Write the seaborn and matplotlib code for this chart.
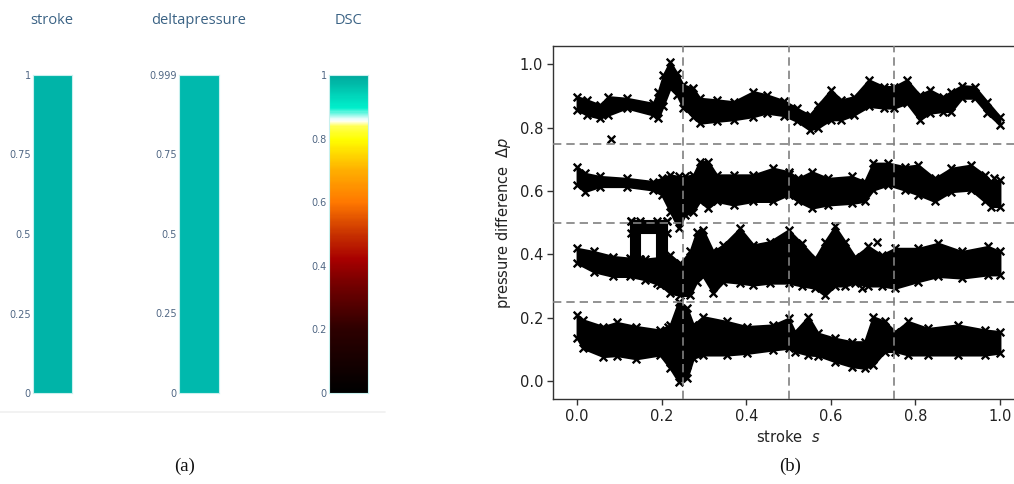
import numpy as np
import pandas as pd
import matplotlib
matplotlib.use("Agg")
import matplotlib.pyplot as plt
from matplotlib.colors import LinearSegmentedColormap
from matplotlib.lines import Line2D
import seaborn as sns

# ---------------- data : panel (a) ----------------
axis_names = ["stroke", "deltapressure", "DSC"]
axis_ranges = [(0, 1), (0, 0.999), (0, 1)]
axis_ticks = [[0, 0.25, 0.5, 0.75, 1],
              [0, 0.25, 0.5, 0.75, 0.999],
              [0, 0.2, 0.4, 0.6, 0.8, 1]]
axis_ticklabels = [["0", "0.25", "0.5", "0.75", "1"],
                   ["0", "0.25", "0.5", "0.75", "0.999"],
                   ["0", "0.2", "0.4", "0.6", "0.8", "1"]]
dsc_stops = [0.0, 0.2, 0.35, 0.42, 0.5, 0.6, 0.7, 0.8, 0.84, 0.86, 0.9, 1.0]
dsc_colors = ["#000000", "#2e0000", "#7a0000", "#a80000", "#c83200", "#ff7800",
              "#ffae00", "#ffff00", "#ffff50", "#ffffff", "#00f0cc", "#00aa9e"]

# ---------------- data : panel (b) ----------------
b1_s = [0.0, 0.023, 0.054, 0.074, 0.117, 0.18, 0.192, 0.204, 0.22, 0.236, 0.251, 0.275, 0.29,
        0.33, 0.37, 0.417, 0.448, 0.49, 0.52, 0.55, 0.57, 0.60, 0.625, 0.655, 0.69, 0.725,
        0.75, 0.78, 0.81, 0.835, 0.865, 0.885, 0.91, 0.94, 0.97, 1.0]
b1_hi = [0.898, 0.888, 0.872, 0.898, 0.893, 0.877, 0.914, 0.967, 1.009, 0.972, 0.935, 0.925,
         0.893, 0.888, 0.882, 0.914, 0.904, 0.885, 0.861, 0.84, 0.872, 0.919, 0.888, 0.898,
         0.951, 0.93, 0.93, 0.951, 0.904, 0.919, 0.898, 0.914, 0.933, 0.93, 0.882, 0.835]
b1_lo = [0.856, 0.84, 0.83, 0.84, 0.862, 0.84, 0.83, 0.87, 0.925, 0.904, 0.862, 0.835, 0.814,
         0.82, 0.825, 0.835, 0.846, 0.838, 0.82, 0.793, 0.80, 0.825, 0.825, 0.84, 0.867, 0.862,
         0.862, 0.877, 0.825, 0.846, 0.851, 0.851, 0.893, 0.893, 0.846, 0.809]

b2_s = [0.0, 0.018, 0.054, 0.117, 0.18, 0.2, 0.22, 0.24, 0.255, 0.275, 0.29, 0.31, 0.33, 0.37,
        0.417, 0.464, 0.5, 0.523, 0.555, 0.594, 0.65, 0.68, 0.70, 0.736, 0.775, 0.807, 0.846,
        0.885, 0.932, 0.964, 0.98, 1.0]
b2_hi = [0.677, 0.656, 0.646, 0.64, 0.63, 0.64, 0.651, 0.646, 0.646, 0.651, 0.693, 0.693, 0.651,
         0.651, 0.651, 0.672, 0.661, 0.64, 0.661, 0.64, 0.646, 0.63, 0.688, 0.688, 0.677, 0.682,
         0.64, 0.672, 0.682, 0.651, 0.63, 0.635]
b2_lo = [0.619, 0.598, 0.614, 0.614, 0.603, 0.588, 0.535, 0.482, 0.524, 0.535, 0.567, 0.546,
         0.567, 0.556, 0.567, 0.567, 0.588, 0.567, 0.546, 0.556, 0.561, 0.567, 0.603, 0.619,
         0.603, 0.588, 0.567, 0.598, 0.603, 0.567, 0.551, 0.551]

b3_s = [0.0, 0.039, 0.086, 0.125, 0.16, 0.196, 0.22, 0.244, 0.267, 0.283, 0.298, 0.322, 0.346,
        0.385, 0.417, 0.456, 0.5, 0.531, 0.563, 0.586, 0.61, 0.634, 0.657, 0.689, 0.72, 0.752,
        0.807, 0.854, 0.91, 0.972, 1.0]
b3_hi = [0.419, 0.409, 0.393, 0.388, 0.385, 0.39, 0.398, 0.372, 0.409, 0.472, 0.477, 0.409,
         0.43, 0.482, 0.43, 0.44, 0.477, 0.435, 0.388, 0.44, 0.488, 0.44, 0.393, 0.425, 0.398,
         0.419, 0.419, 0.435, 0.409, 0.425, 0.409]
b3_lo = [0.372, 0.345, 0.33, 0.33, 0.32, 0.303, 0.277, 0.27, 0.27, 0.314, 0.33, 0.277, 0.314,
         0.309, 0.303, 0.309, 0.309, 0.30, 0.293, 0.27, 0.30, 0.30, 0.309, 0.30, 0.30, 0.293,
         0.314, 0.33, 0.325, 0.335, 0.335]
# loop excursion of band 3 (pieces: s-start, s-end, low, high)
loop_s0 = [0.128, 0.128, 0.19]
loop_s1 = [0.212, 0.148, 0.212]
loop_lo = [0.468, 0.385, 0.31]
loop_hi = [0.505, 0.505, 0.505]

b4_s = [0.0, 0.014, 0.062, 0.094, 0.14, 0.196, 0.22, 0.24, 0.26, 0.275, 0.298, 0.354, 0.401,
        0.464, 0.5, 0.515, 0.547, 0.57, 0.61, 0.65, 0.68, 0.70, 0.728, 0.752, 0.783, 0.83, 0.9,
        0.965, 1.0]
b4_hi = [0.209, 0.193, 0.172, 0.185, 0.172, 0.161, 0.177, 0.25, 0.23, 0.177, 0.203, 0.188,
         0.172, 0.177, 0.198, 0.156, 0.203, 0.151, 0.135, 0.124, 0.124, 0.203, 0.188, 0.156,
         0.188, 0.166, 0.177, 0.161, 0.156]
b4_lo = [0.135, 0.103, 0.077, 0.08, 0.07, 0.082, 0.04, -0.002, 0.008, 0.072, 0.082, 0.082,
         0.087, 0.098, 0.103, 0.093, 0.082, 0.08, 0.061, 0.045, 0.04, 0.05, 0.093, 0.093, 0.082,
         0.082, 0.082, 0.082, 0.088]

out_s = [0.08, 0.5, 0.673, 0.985, 0.71, 0.26, 0.215, 0.26]
out_dp = [0.765, 0.655, 0.295, 0.64, 0.44, 0.05, 0.17, 0.56]

boundaries = [0.25, 0.5, 0.75]
xticks = [0.0, 0.2, 0.4, 0.6, 0.8, 1.0]
yticks = [0.0, 0.2, 0.4, 0.6, 0.8, 1.0]

# ---------------- figure ----------------
sns.set_theme(style="ticks")
plt.rcParams['font.family'] = ['DejaVu Sans']
plt.rcParams['mathtext.fontset'] = 'dejavusans'

W, H = 1014, 484
fig = plt.figure(figsize=(W / 100, H / 100), dpi=100)
fig.patch.set_facecolor("white")


def px_axes(x0, y0, x1, y1):
    return fig.add_axes([x0 / W, 1 - y1 / H, (x1 - x0) / W, (y1 - y0) / H])


# ---- panel (a) ----
dsc_cmap = LinearSegmentedColormap.from_list("dsc", list(zip(dsc_stops, dsc_colors)))
bar_px = [(33, 72), (179, 219), (329, 368)]
title_x = [52, 199, 348]
bar_fill = ["#00b4a8", "#00b9ad", None]
for i, name in enumerate(axis_names):
    x0, x1 = bar_px[i]
    ax = px_axes(x0, 75, x1, 393)
    lo, hi = axis_ranges[i]
    if bar_fill[i] is None:
        grad = np.linspace(lo, hi, 300).reshape(-1, 1)
        ax.imshow(grad, cmap=dsc_cmap, aspect="auto", origin="lower",
                  extent=[0, 1, lo, hi], vmin=lo, vmax=hi)
    else:
        ax.fill_between([0, 1], [lo, lo], [hi, hi], color=bar_fill[i], lw=0)
    ax.set_xlim(0, 1)
    ax.set_ylim(lo, hi)
    ax.set_xticks([])
    ax.set_yticks(axis_ticks[i], axis_ticklabels[i])
    ax.tick_params(axis="y", length=0, pad=1.5, labelsize=7, labelcolor="#506784")
    for sp in ax.spines.values():
        sp.set_color("#c8f0ee")
        sp.set_linewidth(0.8)
    fig.text(title_x[i] / W, 1 - 20 / H, name, ha="center", va="center",
             fontsize=10.5, color="#3a6284", family=["Open Sans", "DejaVu Sans"])

fig.add_artist(Line2D([0, 385 / W], [1 - 412 / H, 1 - 412 / H], color="#f0f0f0", lw=1.2))

# ---- panel (b) ----
ax = px_axes(553, 46, 1024, 399)
ax.set_facecolor("white")
bands = [(b1_s, b1_lo, b1_hi), (b2_s, b2_lo, b2_hi), (b3_s, b3_lo, b3_hi), (b4_s, b4_lo, b4_hi)]
frames = []
for s, lo, hi in bands:
    ax.fill_between(s, lo, hi, color="black", lw=1.5, edgecolor="black", zorder=2)
    frames.append(pd.DataFrame({"s": list(s) + list(s), "dp": list(lo) + list(hi)}))
for a, b, l, h in zip(loop_s0, loop_s1, loop_lo, loop_hi):
    ax.fill_between([a, b], [l, l], [h, h], color="black", lw=1.5, edgecolor="black", zorder=2)
    frames.append(pd.DataFrame({"s": [a, b, a, b], "dp": [l, l, h, h]}))
frames.append(pd.DataFrame({"s": out_s, "dp": out_dp}))
pts = pd.concat(frames, ignore_index=True)
sns.scatterplot(data=pts, x="s", y="dp", marker="x", color="black", s=30,
                linewidth=1.7, ax=ax, legend=False, zorder=3)

for v in boundaries:
    ax.axvline(v, color="#808080", ls=(0, (5, 3)), lw=1.2, zorder=4)
    ax.axhline(v, color="#808080", ls=(0, (5, 3)), lw=1.2, zorder=4)

ax.set_xlim(-0.057, 1.057)
ax.set_ylim(-0.057, 1.058)
ax.set_xticks(xticks, [f"{t:.1f}" for t in xticks])
ax.set_yticks(yticks, [f"{t:.1f}" for t in yticks])
ax.tick_params(axis="both", labelsize=10.5, length=4, width=1, color="#333333",
               labelcolor="#222222", pad=3)
for sp in ax.spines.values():
    sp.set_color("#333333")
    sp.set_linewidth(1.0)
ax.set_xlabel(r"stroke  $s$", fontsize=10.5, color="#222222", labelpad=4)
ax.set_ylabel(r"pressure difference  $\mathit{\Delta p}$", fontsize=10.5, color="#222222",
              labelpad=5)

# panel captions
for txt, xp in [("(a)", 185), ("(b)", 790)]:
    fig.text(xp / W, 1 - 466 / H, txt, ha="center", va="center", fontsize=13.5,
             family=["Liberation Serif", "DejaVu Serif"], color="#111111")

fig.savefig("out.png", dpi=100, facecolor="white")
